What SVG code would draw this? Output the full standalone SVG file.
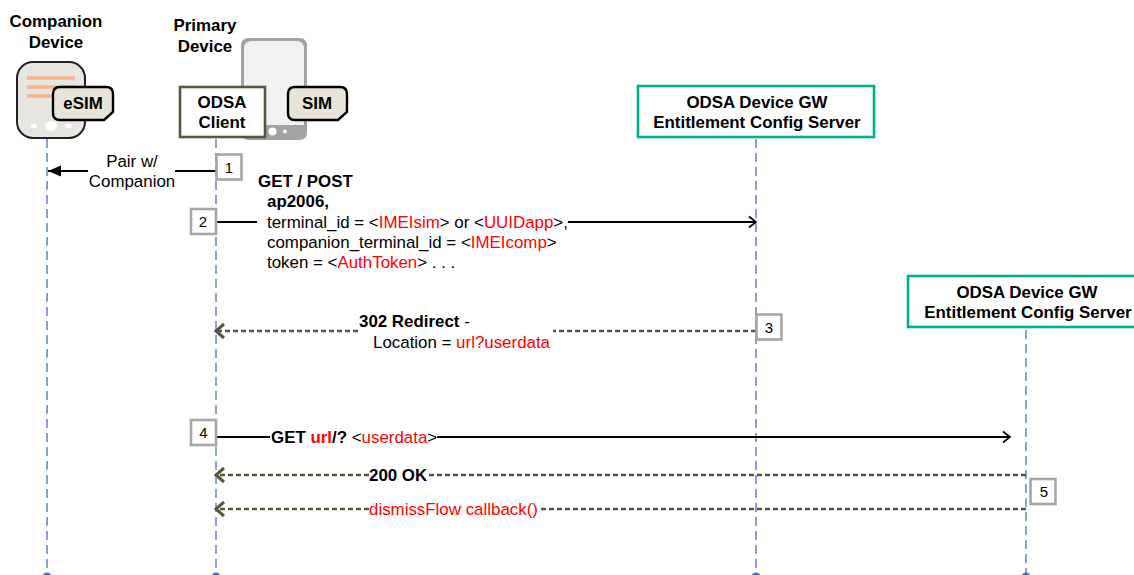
<svg xmlns="http://www.w3.org/2000/svg" width="1134" height="575" viewBox="0 0 1134 575">
<defs>
<marker id="ob" markerUnits="userSpaceOnUse" markerWidth="14" markerHeight="14" refX="11" refY="7" orient="auto"><path d="M4 1.5L11 7L4 12.5" fill="none" stroke="#000" stroke-width="1.6"/></marker>
<marker id="fb" markerUnits="userSpaceOnUse" markerWidth="16" markerHeight="14" refX="14" refY="7" orient="auto"><path d="M14 7L1 1.5V12.5Z" fill="#000"/></marker>
<marker id="br" markerUnits="userSpaceOnUse" markerWidth="14" markerHeight="20" refX="11" refY="10" orient="auto"><path d="M3 3L11 10L3 17" fill="none" stroke="#59563f" stroke-width="3"/></marker>
</defs>
<style>
text{font-family:"Liberation Sans",Arial,sans-serif;font-size:16.9px;fill:#000}
.b{font-weight:700}.m{text-anchor:middle}.r{fill:#f00}
.n{font-size:15px}
.life{stroke:#4472c4;stroke-width:1.3;stroke-dasharray:9 5;fill:none}
.sol{stroke:#000;stroke-width:1.8;fill:none}
.dash{stroke:#59563f;stroke-width:2.4;stroke-dasharray:5 3;fill:none}
.num{fill:#fff;stroke:#a6a6a6;stroke-width:2.6}
.srv{fill:#fff;stroke:#00b08c;stroke-width:2.6}
.dot{fill:#4472c4}
</style>
<g id="lifelines">
<path class="life" d="M47 139V575"/><path class="life" d="M216 139V575"/><path class="life" d="M756 139V575"/><path class="life" d="M1026 330V575"/>
<circle class="dot" cx="47" cy="577" r="4.5"/><circle class="dot" cx="216" cy="577" r="4.5"/><circle class="dot" cx="756" cy="577" r="4.5"/><circle class="dot" cx="1026" cy="577" r="4.5"/>
</g>
<g id="companion-device">
<text class="b m" x="56" y="27">Companion</text><text class="b m" x="56" y="48">Device</text>
<rect x="17" y="62" width="68" height="76" rx="16" fill="#e7e6e0" stroke="#222" stroke-width="2"/>
<path d="M27 78H75M27 87H75M27 96H75" stroke="#f9b48c" stroke-width="3.4"/>
<ellipse cx="51" cy="126" rx="6" ry="5" fill="#fff"/><ellipse cx="34" cy="126" rx="3" ry="2.4" fill="#fff"/><ellipse cx="68.500" cy="126" rx="3" ry="2.4" fill="#fff"/>
<path id="esim-card" d="M60 87H106Q113 87 113 94V112L104 120H60Q53 120 53 113V94Q53 87 60 87Z" fill="#e9e4d9" stroke="#000" stroke-width="2.4"/>
<text class="b m" x="83" y="109">eSIM</text>
</g>
<g id="primary-device">
<text class="b m" x="205" y="31">Primary</text><text class="b m" x="205" y="52">Device</text>
<path d="M241 132V46Q241 38 249 38H299Q307 38 307 46V132Q307 140 299 140H249Q241 140 241 132Z" fill="#a3a3a3"/>
<path d="M244 125V49Q244 41 252 41H296Q304 41 304 49V125Z" fill="#f2f2f2"/>
<circle cx="272.500" cy="131.500" r="4" fill="#fff"/><circle cx="285" cy="131.500" r="2" fill="#fff"/>
<path id="sim-card" d="M295 87H340Q347 87 347 94V112L338 120H295Q288 120 288 113V94Q288 87 295 87Z" fill="#e9e4d9" stroke="#000" stroke-width="2.4"/>
<text class="b m" x="317" y="109">SIM</text>
</g>
<g id="odsa-client">
<rect x="180" y="87" width="85" height="50" fill="#fff" stroke="#59563f" stroke-width="2.6"/>
<text class="b m" x="222" y="108">ODSA</text><text class="b m" x="222" y="128">Client</text>
</g>
<g id="server-1">
<rect x="638" y="86" width="236" height="51" class="srv"/>
<text class="b m" x="757" y="108">ODSA Device GW</text><text class="b m" x="757" y="128">Entitlement Config Server</text>
</g>
<g id="server-2">
<rect x="908" y="276" width="240" height="51" class="srv"/>
<text class="b m" x="1027" y="298">ODSA Device GW</text><text class="b m" x="1028" y="318">Entitlement Config Server</text>
</g>
<g id="connectors">
<path class="sol" d="M216 171H175"/>
<path class="sol" d="M88 171H48" marker-end="url(#fb)"/>
<path class="sol" d="M216 222H257"/>
<path class="sol" d="M568 222H756" marker-end="url(#ob)"/>
<path class="dash" d="M358 331H216" marker-end="url(#br)"/>
<path class="dash" d="M756 331H553"/>
<path class="sol" d="M216 437H270"/>
<path class="sol" d="M437 437H1010" marker-end="url(#ob)"/>
<path class="dash" d="M369 475H216" marker-end="url(#br)"/>
<path class="dash" d="M1026 475H428"/>
<path class="dash" d="M369 509H216" marker-end="url(#br)"/>
<path class="dash" d="M1026 509H539"/>
</g>
<g id="step-1"><rect class="num" x="216.500" y="154.500" width="25" height="25"/><text class="m n" x="229" y="173">1</text></g>
<g id="step-2"><rect class="num" x="191" y="209" width="25" height="25"/><text class="m n" x="203" y="227">2</text></g>
<g id="step-3"><rect class="num" x="756.500" y="314.500" width="25" height="25"/><text class="m n" x="769" y="333">3</text></g>
<g id="step-4"><rect class="num" x="191" y="420" width="25" height="25"/><text class="m n" x="203.500" y="438">4</text></g>
<g id="step-5"><rect class="num" x="1030.500" y="479" width="25" height="25"/><text class="m n" x="1044" y="497">5</text></g>
<g id="labels">
<text class="m" x="132" y="167">Pair w/</text><text class="m" x="132" y="187">Companion</text>
<text class="b" x="258" y="187">GET / POST</text>
<text class="b" x="267" y="207">ap2006,</text>
<text x="267" y="228">terminal_id = &lt;<tspan class="r">IMEIsim</tspan>&gt; or &lt;<tspan class="r">UUIDapp</tspan>&gt;,</text>
<text x="267" y="248">companion_terminal_id = &lt;<tspan class="r">IMEIcomp</tspan>&gt;</text>
<text x="267" y="268">token = &lt;<tspan class="r">AuthToken</tspan>&gt; . . .</text>
<text x="359" y="327"><tspan class="b">302 Redirect</tspan> -</text>
<text x="373" y="348">Location = <tspan class="r">url?userdata</tspan></text>
<text x="271" y="443"><tspan class="b">GET </tspan><tspan class="b r">url</tspan><tspan class="b">/?</tspan> &lt;<tspan class="r">userdata</tspan>&gt;</text>
<text class="b" x="369" y="481">200 OK</text>
<text class="r" x="369" y="515">dismissFlow callback()</text>
</g>
</svg>
